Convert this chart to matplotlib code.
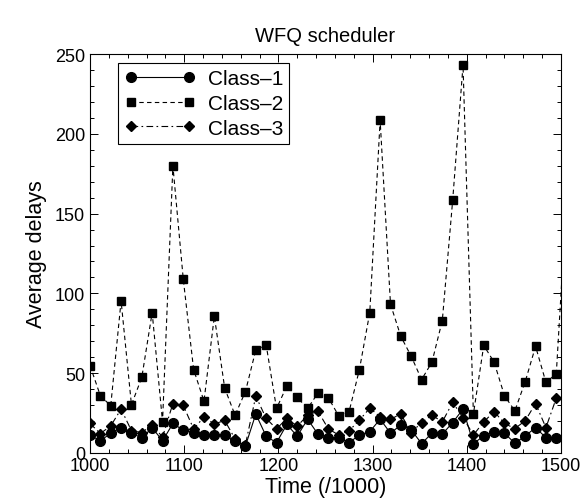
import matplotlib
matplotlib.use("Agg")
import matplotlib.pyplot as plt
from matplotlib.ticker import MultipleLocator
import numpy as np

plt.rcParams['font.family'] = ['Liberation Sans', 'DejaVu Sans']

# sample times (step 11 from 1000)
time = [1000 + 11 * k for k in range(47)]

class1 = [11.3, 7.6, 12.4, 15.9, 12.8, 9.2, 15.9, 7.6, 18.5, 14.3,
          12.8, 11.1, 11.3, 11.3, 7.6, 4.4, 24.4, 10.5, 6.5, 17.9,
          10.5, 21.2, 11.8, 9.6, 9.6, 6.5, 11.3, 13.4, 21.2, 12.4,
          17.6, 14.5, 5.9, 12.4, 11.8, 19.1, 27.5, 5.9, 10.7, 13.2,
          12.4, 6.1, 10.7, 15.9, 9.6, 9.2]

class2 = [54.8, 35.9, 29.6, 95.3, 30.2, 47.4, 88.0, 19.5, 180.0, 109.0,
          52.3, 32.5, 85.7, 40.6, 23.7, 38.5, 64.5, 67.8, 27.9, 42.0,
          34.8, 27.9, 37.6, 34.6, 23.3, 25.8, 52.3, 88.0, 208.4, 93.2,
          73.0, 60.6, 46.0, 56.9, 83.0, 158.3, 243.0, 24.4, 67.4, 56.9,
          35.9, 26.4, 44.7, 66.8, 44.3, 49.6, 160.0]

class3 = [18.5, 12.2, 17.0, 27.5, 14.0, 12.8, 17.6, 10.0, 31.0, 29.8,
          15.1, 22.5, 18.2, 20.4, 8.8, 5.3, 35.6, 21.7, 15.1, 21.7,
          16.8, 23.7, 26.2, 15.1, 11.3, 13.9, 20.6, 28.1, 22.7, 21.2,
          24.4, 12.8, 19.1, 23.7, 19.5, 31.7, 22.2, 11.3, 19.5, 26.0,
          18.5, 15.3, 20.2, 31.0, 15.9, 34.4]

W, H = 586, 502
fig = plt.figure(figsize=(W / 100, H / 100), dpi=100)
left, right, top, bottom = 90, 561, 55, 454
ax = fig.add_axes([left / W, 1 - bottom / H, (right - left) / W, (bottom - top) / H])

lw = 0.8
ax.plot(time[:len(class1)], class1, '-', color='black', lw=lw, marker='o', ms=7,
        label='Class–1')
ax.plot(time[:len(class2)], class2, color='black', lw=lw, ls=(0, (4, 3)), marker='s', ms=5.5,
        label='Class–2')
ax.plot(time[:len(class3)], class3, color='black', lw=lw, ls=(0, (6, 3, 1.5, 3)), marker='D', ms=5,
        label='Class–3')

ax.set_xlim(1000, 1500)
ax.set_ylim(0, 250)
ax.xaxis.set_major_locator(MultipleLocator(100))
ax.xaxis.set_minor_locator(MultipleLocator(20))
ax.yaxis.set_major_locator(MultipleLocator(50))
ax.yaxis.set_minor_locator(MultipleLocator(10))
ax.tick_params(which='both', direction='in', top=True, right=True, labelsize=13, width=0.7)
ax.tick_params(which='major', length=6)
ax.tick_params(which='minor', length=3)
ax.tick_params(axis='x', pad=3)
for s in ax.spines.values():
    s.set_linewidth(0.8)

ax.set_title('WFQ scheduler', fontsize=14.5, pad=9)
ax.set_xlabel('Time (/1000)', fontsize=15.5, labelpad=1)
ax.set_ylabel('Average delays', fontsize=15.5, labelpad=6)

leg = ax.legend(loc='upper left', bbox_to_anchor=(0.06, 0.978), fontsize=15,
                numpoints=2, handlelength=3.4, frameon=True, fancybox=False,
                edgecolor='black', framealpha=1, borderpad=0.3, labelspacing=0.28,
                handletextpad=0.6, borderaxespad=0)
leg.get_frame().set_linewidth(0.8)

fig.savefig('out.png', dpi=100)
